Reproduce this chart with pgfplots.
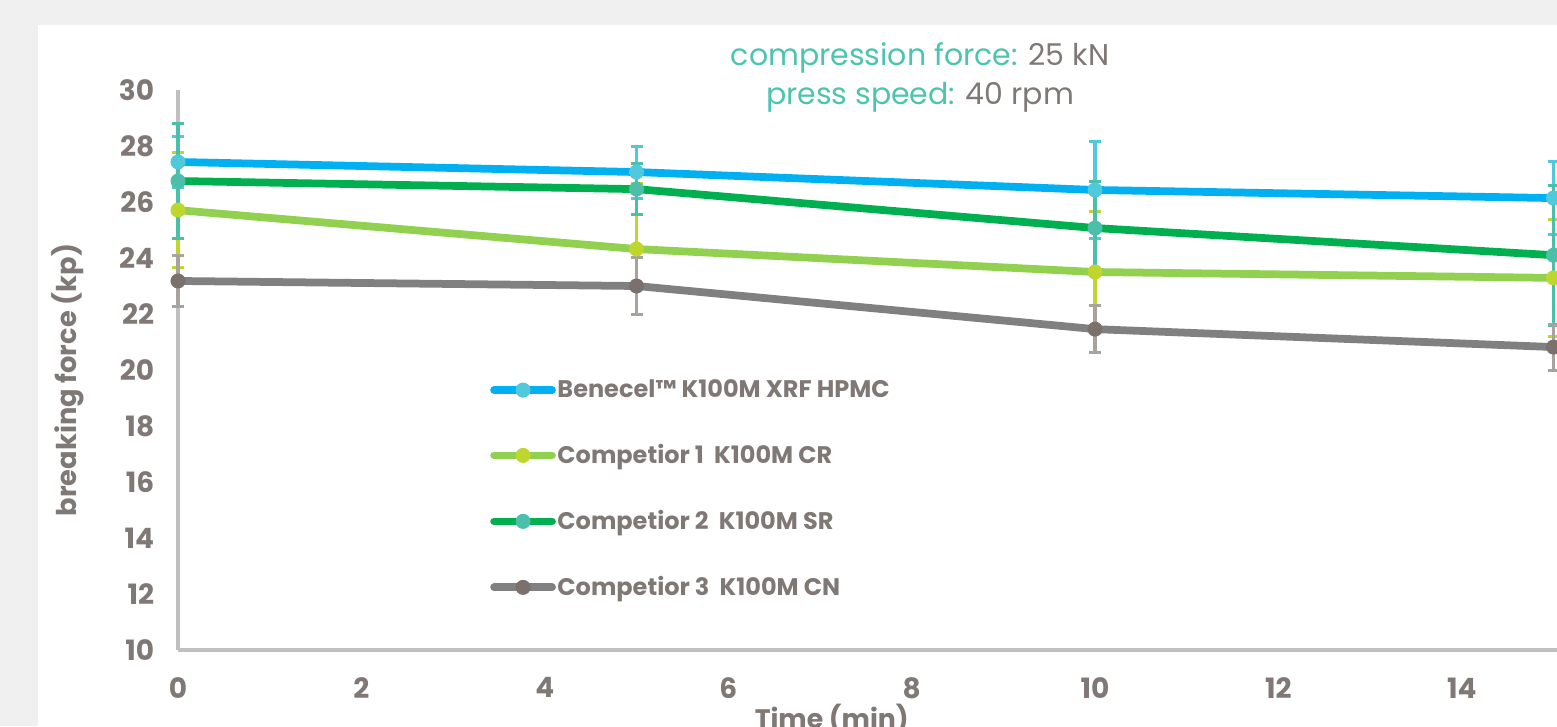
\documentclass[border=0pt]{standalone}
\usepackage{fontspec}
\setmainfont{Poppins}
\usepackage{pgfplots}
\pgfplotsset{compat=1.18}
\definecolor{bgray}{HTML}{F0F0F0}
\definecolor{txt}{HTML}{7F7874}
\definecolor{teal}{HTML}{4DC4AE}
\definecolor{axisgray}{HTML}{BFBFBF}
\definecolor{bline}{HTML}{00B0F0}
\definecolor{bmark}{HTML}{4FC9DB}
\definecolor{cAline}{HTML}{92D050}
\definecolor{cAmark}{HTML}{BFD62F}
\definecolor{cBline}{HTML}{00B050}
\definecolor{cBmark}{HTML}{4BBFAA}
\definecolor{cCline}{HTML}{808080}
\definecolor{cCmark}{HTML}{7A716D}
\definecolor{cCerr}{HTML}{A8A39E}
\begin{document}
\begin{tikzpicture}
\clip (0,0) rectangle (622.8pt,290.4pt);
\fill[bgray] (0,0) rectangle (622.8pt,290.4pt);
\fill[white] (15.2pt,0) rectangle (622.8pt,280.4pt);
\begin{axis}[
  at={(71.2pt,30.4pt)}, anchor=south west,
  x=36.68pt, y=11.2pt,
  xmin=0, xmax=15.04, ymin=10, ymax=30,
  axis x line*=bottom, axis y line*=left,
  axis line style={axisgray, line width=1.3pt},
  major tick length=0pt,
  xtick={0,2,...,14}, ytick={10,12,...,30},
  /pgf/number format/assume math mode=true,
  ticklabel style={font=\fontsize{11.2pt}{13pt}\selectfont\bfseries, text=txt},
  xticklabel style={yshift=-7.5pt},
  yticklabel style={xshift=-6pt},
  clip=false,
  xlabel={Time (min)}, ylabel={breaking force (kp)},
  xlabel style={font=\fontsize{10.7pt}{12pt}\selectfont\bfseries, text=txt, at={(axis description cs:0.474,-0.123)}, anchor=center},
  ylabel style={font=\fontsize{10.9pt}{12pt}\selectfont\bfseries, text=txt, at={(axis description cs:-0.0798,0.482)}, anchor=center},
  legend style={at={(axis description cs:0.226,0.487)}, anchor=north west, draw=none, fill=none, inner sep=0pt,
    row sep=16pt, font=\fontsize{9.6pt}{11pt}\selectfont\bfseries, text=txt,
    nodes={inner sep=0.6pt, anchor=west}},
  legend cell align=left,
  legend image code/.code={\draw[mark repeat=2,mark phase=2,#1] plot coordinates {(0pt,0pt)(11.6pt,0pt)(23.2pt,0pt)};},
  every axis plot/.append style={line width=3.1pt, line cap=round, mark=*, mark size=2.8pt},
]
\addplot[color=bline, mark options={fill=bmark, draw=bmark, line width=0.4pt},
  error bars/.cd, y dir=both, y explicit,
  error bar style={color=bmark, line width=1.4pt, line cap=butt},
  error mark options={rotate=90, mark size=2.4pt, color=bmark, line width=1.2pt}]
  coordinates {(0,27.43) +- (0,0.9) (5,27.07) +- (0,0.93) (10,26.43) +- (0,1.72) (15,26.14) +- (0,1.3)};
\addlegendentry{Benecel™ K100M XRF HPMC}
\addplot[color=cAline, mark options={fill=cAmark, draw=cAmark, line width=0.4pt},
  error bars/.cd, y dir=both, y explicit,
  error bar style={color=cAmark, line width=1.4pt, line cap=butt},
  error mark options={rotate=90, mark size=2.4pt, color=cAmark, line width=1.2pt}]
  coordinates {(0,25.71) +- (0,2.06) (5,24.32) +- (0,2.35) (10,23.5) +- (0,2.16) (15,23.29) +- (0,2.1)};
\addlegendentry{Competior 1\ \ K100M CR}
\addplot[color=cBline, mark options={fill=cBmark, draw=cBmark, line width=0.4pt},
  error bars/.cd, y dir=both, y explicit,
  error bar style={color=cBmark, line width=1.4pt, line cap=butt},
  error mark options={rotate=90, mark size=2.4pt, color=cBmark, line width=1.2pt}]
  coordinates {(0,26.75) +- (0,2.05) (5,26.46) +- (0,0.91) (10,25.07) +- (0,1.68) (15,24.1) +- (0,2.5)};
\addlegendentry{Competior 2\ \ K100M SR}
\addplot[color=cCline, mark options={fill=cCmark, draw=cCmark, line width=0.4pt},
  error bars/.cd, y dir=both, y explicit,
  error bar style={color=cCerr, line width=1.4pt, line cap=butt},
  error mark options={rotate=90, mark size=2.4pt, color=cCerr, line width=1.2pt}]
  coordinates {(0,23.18) +- (0,0.9) (5,23.0) +- (0,1.02) (10,21.46) +- (0,0.85) (15,20.82) +- (0,0.82)};
\addlegendentry{Competior 3\ \ K100M CN}
\end{axis}
\node[font=\fontsize{12pt}{14pt}\selectfont, anchor=center] at (368pt,267.2pt) {\textcolor{teal}{compression force:} \textcolor{txt}{25 kN}};
\node[font=\fontsize{12pt}{14pt}\selectfont, anchor=center] at (368pt,251.6pt) {\textcolor{teal}{press speed:} \textcolor{txt}{40 rpm}};
\end{tikzpicture}
\end{document}
